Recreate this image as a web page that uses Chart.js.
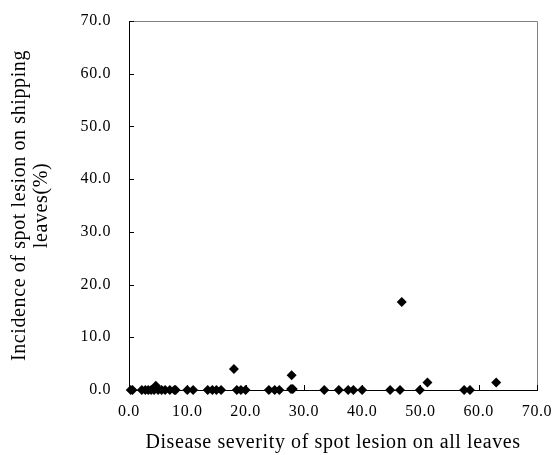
<!DOCTYPE html>
<html>
<head>
<meta charset="utf-8">
<script src="https://cdn.jsdelivr.net/npm/chart.js@4"></script>
<style>
  html, body { margin: 0; padding: 0; background: #fff; }
</style>
</head>
<body>
<canvas id="myChart" width="555" height="455"></canvas>
<script>
// Datos (severidad vs incidencia)
var severity = [0.3, 0.6, 2.2, 2.8, 3.3, 3.8, 4.3, 4.6, 5.0, 5.6, 6.2, 7.0, 7.8, 8.0,
                10.0, 11.0, 13.5, 14.3, 15.0, 15.8, 18.0, 18.5, 19.2, 20.0,
                24.0, 25.0, 25.8, 27.9, 27.8, 28.1, 33.5, 36.0, 37.6, 38.5, 40.0,
                44.8, 46.5, 46.8, 49.9, 51.2, 57.5, 58.5, 63.0];
var incidence = [0, 0, 0, 0, 0, 0, 0, 0.8, 0, 0, 0, 0, 0, 0,
                 0, 0, 0, 0, 0, 0, 4.0, 0, 0, 0,
                 0, 0, 0, 2.8, 0.2, 0.2, 0, 0, 0, 0, 0,
                 0, 0, 16.7, 0, 1.4, 0, 0, 1.4];
var axisTicks = [0, 10, 20, 30, 40, 50, 60, 70];

var puntos = severity.map(function (x, i) { return { x: x, y: incidence[i] }; });

var fuente = 'Liberation Serif, Times New Roman, serif';

// texto un poco mas ancho, como en la figura original
var espaciado = {
    id: 'espaciado',
    beforeLayout: function (chart) { chart.ctx.letterSpacing = '0.6px'; },
    beforeDraw: function (chart) { chart.ctx.letterSpacing = '0.6px'; }
};

// marcas hacia dentro y borde gris arriba/derecha
var marcoPlugin = {
    id: 'marco',
    beforeDatasetsDraw: function (chart) {
        var c = chart.ctx, a = chart.chartArea;
        var sx = chart.scales.x, sy = chart.scales.y;
        c.save();
        c.strokeStyle = '#808080';
        c.lineWidth = 1;
        c.beginPath();
        c.moveTo(a.left, a.top + 0.5);
        c.lineTo(a.right + 0.5, a.top + 0.5);
        c.lineTo(a.right + 0.5, a.bottom);
        c.stroke();
        c.strokeStyle = '#000';
        c.beginPath();
        axisTicks.forEach(function (t) {
            var px = Math.round(sx.getPixelForValue(t)) + 0.5;
            c.moveTo(px, a.bottom);
            c.lineTo(px, a.bottom - 5);
            var py = Math.round(sy.getPixelForValue(t)) + 0.5;
            c.moveTo(a.left, py);
            c.lineTo(a.left + 5, py);
        });
        c.stroke();
        c.restore();
    }
};

var ctx = document.getElementById('myChart').getContext('2d');
var myChart = new Chart(ctx, {
    type: 'scatter',
    data: {
        datasets: [{
            data: puntos,
            pointStyle: 'rectRot',
            pointRadius: 5,
            pointBackgroundColor: '#000',
            pointBorderColor: '#000',
            pointBorderWidth: 0,
            clip: false
        }]
    },
    options: {
        responsive: false,
        animation: false,
        layout: { padding: { top: 21, right: 18, left: 0, bottom: 0 } },
        plugins: {
            legend: { display: false },
            tooltip: { enabled: false }
        },
        scales: {
            x: {
                type: 'linear',
                min: 0,
                max: 70,
                afterFit: function (s) {
                    s.height = 65;
                    s.paddingLeft = 0;
                    s.paddingRight = 0;
                },
                afterBuildTicks: function (s) { s.ticks = axisTicks.map(function (v) { return { value: v }; }); },
                grid: { display: false, drawTicks: false },
                border: { display: true, color: '#000', width: 1 },
                ticks: {
                    padding: 12,
                    color: '#000',
                    font: { family: fuente, size: 16 },
                    callback: function (v) { return v.toFixed(1); }
                },
                title: {
                    display: true,
                    text: 'Disease severity of spot lesion on all leaves',
                    color: '#000',
                    font: { family: fuente, size: 20 },
                    padding: { top: 9, bottom: 0 }
                }
            },
            y: {
                type: 'linear',
                min: 0,
                max: 70,
                afterFit: function (s) {
                    s.width = 129;
                    s.paddingTop = 0;
                    s.paddingBottom = 0;
                },
                afterBuildTicks: function (s) { s.ticks = axisTicks.map(function (v) { return { value: v }; }); },
                grid: { display: false, drawTicks: false },
                border: { display: true, color: '#000', width: 1 },
                ticks: {
                    padding: 18,
                    color: '#000',
                    font: { family: fuente, size: 16 },
                    callback: function (v) { return v.toFixed(1); }
                },
                title: {
                    display: true,
                    text: ['Incidence of spot lesion on shipping', 'leaves(%)'],
                    color: '#000',
                    font: { family: fuente, size: 20, lineHeight: 1.1 },
                    padding: { top: 9, bottom: 0 }
                }
            }
        }
    },
    plugins: [espaciado, marcoPlugin]
});
</script>
</body>
</html>
